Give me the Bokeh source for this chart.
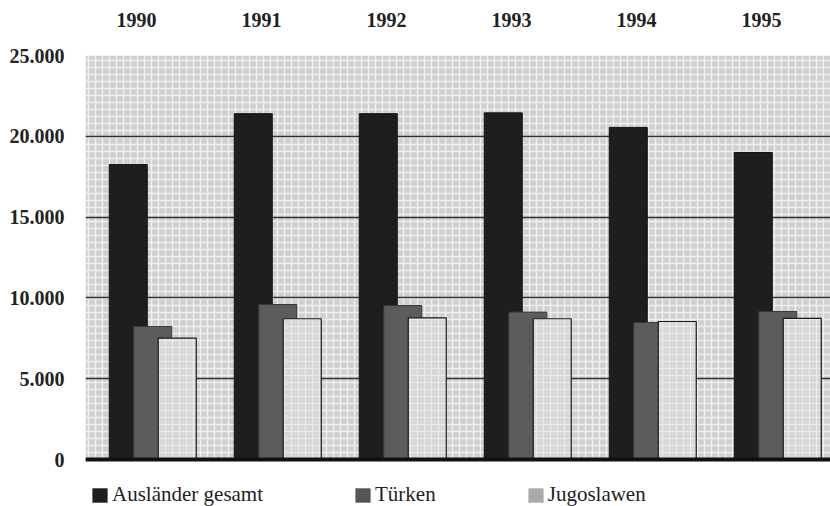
from bokeh.plotting import figure
from bokeh.models import (ColumnDataSource, Range1d, FixedTicker, Span,
                          BoxAnnotation, Legend, LegendItem)
from bokeh.transform import dodge
from bokeh.embed import file_html
from bokeh.resources import INLINE

# ---- data ----
years = ["1990", "1991", "1992", "1993", "1994", "1995"]
auslaender = [18250, 21400, 21400, 21450, 20550, 19000]
tuerken = [8230, 9590, 9530, 9120, 8480, 9160]
jugoslawen = [7510, 8710, 8770, 8710, 8540, 8730]
y_ticks = [0, 5000, 10000, 15000, 20000, 25000]
series_names = ["Ausländer gesamt", "Türken", "Jugoslawen"]

idx = list(range(len(years)))
src = ColumnDataSource(dict(x=idx, a=auslaender, t=tuerken, j=jugoslawen))

FONT = "Liberation Serif"

# frame runs to the bottom edge; the strip below 0 holds the legend
p = figure(width=830, height=506, output_backend="svg", toolbar_location=None,
           x_range=Range1d(-0.408, 5.552), y_range=Range1d(-2908, 25000),
           x_axis_location="above",
           min_border_left=85, min_border_right=0,
           min_border_top=55, min_border_bottom=0)
p.outline_line_color = None
p.background_fill_color = "white"
p.border_fill_color = "white"

# patterned plot background (only above the baseline)
bg = BoxAnnotation(bottom=0, fill_color="#d0d0d0", fill_alpha=1.0, line_color=None,
                   hatch_pattern="+", hatch_color="#f4f4f4", hatch_alpha=0.85,
                   hatch_scale=7, hatch_weight=1.4, level="image")
p.add_layout(bg)

# grid
p.xgrid.visible = False
p.ygrid.ticker = FixedTicker(ticks=y_ticks)
p.ygrid.grid_line_color = "#333333"
p.ygrid.grid_line_width = 1.3

# bars
w = 0.304
r_a = p.vbar(x=dodge("x", -0.066, range=p.x_range), top="a", width=w, bottom=0,
             source=src, fill_color="#1e1e1e", line_color="#111111", line_width=1)
r_t = p.vbar(x=dodge("x", 0.130, range=p.x_range), top="t", width=w, bottom=0,
             source=src, fill_color="#5c5c5c", line_color="#3a3a3a", line_width=1)
r_j = p.vbar(x=dodge("x", 0.326, range=p.x_range), top="j", width=w, bottom=0,
             source=src, fill_color="#d8d8d8", line_color="#1a1a1a", line_width=1.2,
             hatch_pattern="+", hatch_color="#f4f4f4", hatch_alpha=0.7,
             hatch_scale=7, hatch_weight=1.2)

# baseline
p.add_layout(Span(location=0, dimension="width", line_color="#111111", line_width=4))

# axes
xa = p.xaxis[0]
xa.ticker = FixedTicker(ticks=idx)
xa.major_label_overrides = {i: y for i, y in zip(idx, years)}
xa.axis_line_color = None
xa.major_tick_line_color = None
xa.minor_tick_line_color = None
xa.major_label_standoff = 23
xa.major_label_text_font = FONT
xa.major_label_text_font_style = "bold"
xa.major_label_text_font_size = "20px"
xa.major_label_text_color = "#222222"

ya = p.yaxis[0]
ya.ticker = FixedTicker(ticks=y_ticks)
ya.major_label_overrides = {v: f"{v:,}".replace(",", ".") for v in y_ticks}
ya.axis_line_color = None
ya.major_tick_line_color = None
ya.minor_tick_line_color = None
ya.major_label_standoff = 15
ya.major_label_text_font = FONT
ya.major_label_text_font_style = "bold"
ya.major_label_text_font_size = "20px"
ya.major_label_text_color = "#222222"

# legend swatches: zero-height bars (nothing visible in the plot)
l_a = p.vbar(x="x", top=0, bottom=0, width=w, source=src,
             fill_color="#1e1e1e", line_color=None)
l_t = p.vbar(x="x", top=0, bottom=0, width=w, source=src,
             fill_color="#555555", line_color=None)
l_j = p.vbar(x="x", top=0, bottom=0, width=w, source=src,
             fill_color="#aaaaaa", line_color=None)

legend = Legend(items=[LegendItem(label=series_names[0], renderers=[l_a]),
                       LegendItem(label=series_names[1], renderers=[l_t]),
                       LegendItem(label=series_names[2], renderers=[l_j])],
                orientation="horizontal", location=(5, -1),
                glyph_width=19, glyph_height=18, label_standoff=3, spacing=90,
                padding=0, margin=0, border_line_color=None,
                background_fill_alpha=0,
                label_text_font=FONT, label_text_font_size="21px",
                label_text_color="#222222")
p.add_layout(legend)

open("out.html", "w").write(file_html(p, INLINE))
